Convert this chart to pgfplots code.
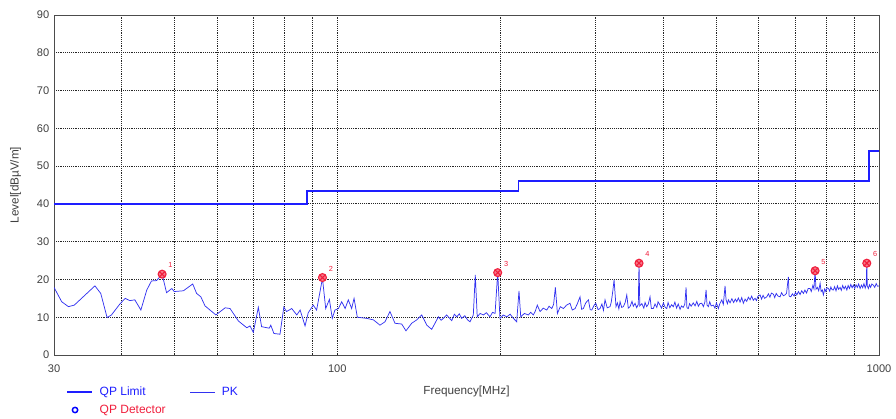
\documentclass[border=0pt]{standalone}
\usepackage{fontspec}
\setmainfont{Liberation Sans}
\usepackage{pgfplots}
\pgfplotsset{compat=1.18}
\definecolor{limblue}{RGB}{30,30,255}
\definecolor{pkblue}{RGB}{50,50,240}
\definecolor{mkred}{RGB}{240,30,60}
\begin{document}
\begin{tikzpicture}[x=1pt,y=1pt]
\begin{axis}[
  at={(0,0)}, anchor=south west,
  scale only axis, width=618.75pt, height=255pt,
  xmode=log, xmin=30, xmax=1000, ymin=0, ymax=90,
  log basis x=10,
  xtick={30,40,50,60,70,80,90,100,200,300,400,500,600,700,800,900,1000},
  xticklabels={30,,,,,,,100,,,,,,,,,1000},
  ytick={0,10,...,90},
  minor xtick={},
  grid=major,
  major grid style={black!85, densely dotted, line width=0.6pt},
  axis line style={black!70, line width=0.7pt},
  major tick length=0pt,
  tick label style={font=\fontsize{8.3}{9}\selectfont, text=black!75},
  /pgf/number format/assume math mode=true,
  xticklabel style={yshift=-4pt},
  xlabel={Frequency[MHz]},
  ylabel={Level[dB\textmu V/m]},
  label style={font=\fontsize{8.8}{10}\selectfont, text=black!75},
  xlabel style={at={(rel axis cs:0.50,0)}, yshift=-20pt},
  ylabel style={yshift=5pt},
  legend columns=2,
  legend style={draw=none, fill=none, at={(rel axis cs:0.010,-0.077)}, anchor=north west,
    font=\fontsize{9}{10}\selectfont, row sep=1.5pt,
    /tikz/every odd column/.append style={column sep=3pt},
    /tikz/every even column/.append style={column sep=16pt}},
  legend cell align=left,
  legend image code/.code={\draw[#1] (0cm,0cm) -- (0.65cm,0cm);},
]
\addplot[limblue, line width=1.4pt] coordinates {
(30,40) (88,40) (88,43.5) (216,43.5) (216,46) (960,46) (960,54) (1000,54)};
\addlegendentry{\textcolor{limblue}{QP Limit}}
\addplot[pkblue, line width=0.55pt] coordinates {
(30.0,17.9) (31.0,14.1) (31.9,12.8) (32.7,13.2) (35.7,18.3) (36.6,16.3) (37.6,9.9) (38.3,10.6)
(39.7,13.5) (40.6,15.0) (41.4,14.4) (42.3,14.6) (43.4,11.9) (44.5,17.2) (45.4,19.6) (46.4,19.7)
(47.5,21.4) (48.4,16.5) (49.5,17.6) (50.0,16.8) (52.0,17.0) (54.1,18.8) (55.0,16.3) (56.0,15.4)
(57.0,13.0) (59.7,10.6) (62.1,12.5) (63.4,12.3) (65.7,9.0) (68.1,7.2) (69.0,7.7) (70.0,6.0)
(71.5,12.6) (72.5,7.5) (74.9,7.1) (75.4,7.9) (76.4,5.7) (78.4,5.5) (79.7,12.7) (80.6,11.5)
(82.4,12.3) (84.2,10.6) (85.4,11.9) (87.2,7.7) (88.4,11.2) (90.3,13.2) (91.6,11.9) (93.9,20.3)
(95.2,12.3) (96.7,14.7) (97.9,9.7) (99.0,11.9) (100.5,12.3) (101.9,14.1) (103.4,12.3) (104.8,14.6)
(106.3,12.3) (107.4,15.0) (108.9,10.0) (113.3,9.7) (116.6,9.3) (119.9,7.9) (122.5,8.8) (125.1,11.5)
(127.8,8.4) (131.5,8.2) (133.9,6.4) (137.2,8.4) (140.2,9.3) (143.2,10.6) (146.3,7.9) (149.4,6.8)
(153.7,10.1) (155.5,9.2) (157.0,9.7) (159.2,10.6) (161.0,9.8) (162.7,9.1) (164.5,10.8) (166.2,10.1)
(168.0,10.9) (169.7,9.7) (172.0,10.4) (174.0,9.3) (175.8,8.8) (178.3,10.6) (179.8,21.2) (181.3,10.1)
(183.5,11.0) (186.1,10.6) (188.5,11.2) (191.4,10.1) (193.5,11.3) (195.6,11.0) (197.8,21.8) (199.7,9.7)
(202.5,10.6) (205.6,10.1) (208.5,10.8) (211.4,9.7) (214.4,8.8) (216.5,17.0) (218.1,10.1) (221.5,11.0)
(225.3,10.6) (227.5,11.3) (230.1,10.6) (232.0,11.6) (234.0,13.2) (236.8,11.5) (240.0,12.4) (243.6,11.9)
(246.0,12.9) (248.9,12.3) (250.8,13.4) (252.7,17.9) (254.9,11.0) (258.0,12.8) (261.5,12.3) (265.0,13.2)
(268.9,13.7) (271.5,11.9) (274.8,12.3) (277.5,13.6) (280.6,15.4) (282.5,12.1) (284.6,12.3) (287.5,13.8)
(290.8,14.6) (293.0,12.0) (295.0,11.9) (298.0,13.2)
(300,13.7) (303,12.0) (305.5,12.3) (308,13.5) (310,11.8) (312.1,14.6) (315,12.5) (318.8,12.8)
(320.5,14.0) (322.5,16.8) (324.3,19.9) (327,12.8) (329,13.8) (331,12.2) (332.7,14.1) (335,12.6)
(337.4,12.8) (340,13.9) (342.3,15.9) (344.5,12.4) (347.1,12.8) (350,14.2) (352,12.9) (354.6,13.7)
(357,12.5) (359.5,13.4) (360.6,24.3) (361.8,13.0) (365,13.6) (368,12.4) (370,13.9) (372.6,12.8)
(375,13.4) (377.9,15.4) (380,12.3) (383.2,12.3) (386,13.5) (389,12.6) (391,14.1) (394.3,13.2)
(397,12.4) (400,13.8) (403,12.6) (405.7,12.3) (408,13.9) (411,12.5) (414,13.3) (417.3,12.8)
(420,14.0) (423,12.4) (426,13.5) (429.3,12.1) (432,13.0) (435,12.6) (438,13.4) (440.4,17.9)
(442,12.5) (444.7,12.3) (447,13.6) (450,12.9) (454,13.8) (457.6,13.0) (461,14.2) (464,12.9)
(467,13.6) (470.8,13.7) (474,12.8) (477,14.0) (479.5,17.2) (481.5,13.2) (484.2,12.8) (487,14.1)
(490,13.0) (494.6,13.2) (498,12.4) (501,13.8) (505.2,12.3) (508,13.5) (512.6,14.6) (516,13.4)
(519.8,18.3) (522,14.6) (525,13.6) (527.2,14.6) (531,13.8) (535,14.9) (539,13.9) (543,14.8)
(546.3,14.1) (550,15.1) (554,14.0) (558,15.2) (561.8,13.7) (566,14.8) (570,14.2) (574,15.3)
(578.1,14.6) (582,15.6) (586,14.5) (590.5,15.0) (594,14.4) (598,15.6) (603.2,15.9) (607,14.8)
(611,15.8) (615,15.0) (620.6,15.4) (625,16.2) (629,15.3) (633,16.4) (638.3,16.1) (642,15.2)
(646,16.3) (651,15.6) (656.7,15.4) (661,16.5) (666,15.7) (670.8,15.9) (675,16.3) (680.3,20.7)
(682.5,15.6) (687.3,15.4) (692,16.2) (697,15.6) (701,16.6) (705.1,15.9) (710,16.8) (715,16.0)
(720,17.0) (725.2,16.3) (730,17.2) (735,16.4) (740,17.6) (746.2,17.6) (750,16.8) (755,18.4)
(758.5,17.5) (762.2,22.3) (765,17.4) (769.7,17.9) (774,17.0) (778.6,19.0) (782,16.8) (786,17.2)
(789.6,15.9) (794,17.5) (798,16.8) (802,17.8) (806.6,17.6) (811,16.9) (815,18.0) (819,17.3)
(823.9,17.2) (828,18.1) (833,17.0) (838,18.3) (842,17.4) (847.7,17.9) (852,17.1) (857,18.4)
(862,17.5) (867,18.2) (872.2,17.2) (877,18.4) (882,17.6) (887,18.7) (892,17.8) (896.9,18.5)
(902,17.6) (907,18.6) (912,17.9) (917,18.8) (922.8,17.6) (928,18.5) (933,17.8) (938,18.9)
(943,17.7) (947,18.6) (949.4,24.3) (951.5,18.2) (955.9,17.6) (960,18.6) (965,17.9) (970,18.8)
(976.3,18.5) (982,17.9) (988,18.9) (994,18.2) (1000,18.3)};
\addlegendentry{\textcolor{limblue}{PK}}
\addlegendimage{legend image code/.code={\draw[blue, line width=1.1pt] (0.2cm,0cm) circle (2pt);}}
\addlegendentry{\textcolor{mkred}{QP Detector}}
\addplot[only marks, mark=otimes*, mkred, mark size=3pt,
  mark options={fill=mkred!60, draw=mkred, line width=0.8pt},
  nodes near coords, point meta=explicit symbolic,
  every node near coord/.append style={font=\fontsize{5.5}{6}\selectfont, text=mkred,
    anchor=south west, xshift=1pt, yshift=1pt}] table[meta=l] {
x y l
47.5 21.4 1
93.9 20.5 2
197.8 21.8 3
360.6 24.3 4
762.2 22.3 5
949.4 24.3 6
};
\end{axis}
\pgfresetboundingbox
\path (-40.5,-47.25) rectangle (631.5,266.25);
\end{tikzpicture}
\end{document}
